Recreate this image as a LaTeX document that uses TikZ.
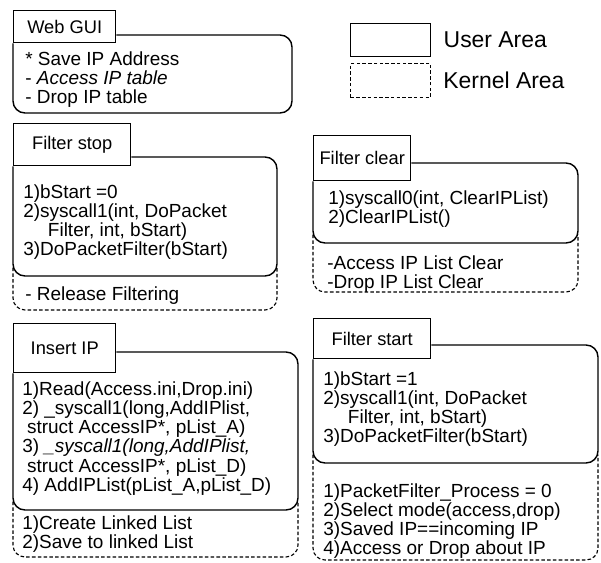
\documentclass[tikz,border=0pt]{standalone}
\usepackage{fontspec}
\setmainfont{Liberation Sans}
\usetikzlibrary{positioning}

\begin{document}
\begin{tikzpicture}[x=0.025cm,y=-0.025cm]
\tikzstyle{user} = [line width=1pt,rounded corners=8.5pt]
\tikzstyle{kernel} = [line width=0.8pt,dash pattern=on 2.5pt off 1.6pt,rounded corners=8.5pt]
\tikzstyle{tab} = [draw,line width=1pt,anchor=north west,inner sep=0pt,font=\fontsize{13}{15}\selectfont]
\tikzstyle{block} = [anchor=north west,inner sep=0pt,align=left,font=\fontsize{13.5}{13.7}\selectfont]
\tikzstyle{legend} = [anchor=west,inner sep=0pt,font=\fontsize{16.3}{18}\selectfont]
    \useasboundingbox (0,0) rectangle (601,563);
    \node[draw,line width=1pt,anchor=north west,minimum width=2cm,minimum height=0.825cm] (UserBox) at (350,23) {};
    \node[draw,line width=0.8pt,dash pattern=on 2.5pt off 1.6pt,anchor=north west,minimum width=2cm,minimum height=0.85cm] (KernelBox) at (350,63) {};
    \node[legend,right=0.3cm of UserBox] (UserLabel) {User Area};
    \node[legend,right=0.3cm of KernelBox] (KernelLabel) {Kernel Area};

    \node[tab,minimum width=2.55cm,minimum height=0.8cm] (WebTab) at (13,10) {Web GUI};
    \coordinate (WebTop) at (0,35);
    \coordinate (WebBR) at (292,113);
    \node[block] (WebText) at (25,51) {* Save IP Address\\- \textit{Access IP table}\\- Drop IP table};

    \node[tab,minimum width=2.925cm,minimum height=1.05cm] (StopTab) at (13,123) {Filter stop};
    \coordinate (StopTop) at (0,157);
    \coordinate (StopBR) at (277,276);
    \coordinate (StopKB) at (277,310);
    \node[block] (StopText) at (23,184) {1)bStart =0\\2)syscall1(int, DoPacket\\\hspace*{1.3em}Filter, int, bStart)\\3)DoPacketFilter(bStart)};
    \node[block] (StopKernel) at (25,286) {- Release Filtering};

    \node[tab,minimum width=2.425cm,minimum height=1.125cm] (ClearTab) at (313,135) {Filter clear};
    \coordinate (ClearTop) at (0,163);
    \coordinate (ClearBR) at (578,243);
    \coordinate (ClearKB) at (578,292);
    \node[block] (ClearText) at (328,190) {1)syscall0(int, ClearIPList)\\2)ClearIPList()};
    \node[block] (ClearKernel) at (327,255) {-Access IP List Clear\\-Drop IP List Clear};

    \node[tab,minimum width=2.55cm,minimum height=1.225cm] (InsertTab) at (13,323) {Insert IP};
    \coordinate (InsertTop) at (0,352);
    \coordinate (InsertBR) at (298,510);
    \coordinate (InsertKB) at (298,557);
    \node[block] (InsertText) at (22,381) {1)Read(Access.ini,Drop.ini)\\2) \_syscall1(long,AddIPlist,\\\hspace*{0.25em}struct AccessIP*, pList\_A)\\3) \textit{\_syscall1(long,AddIPlist,}\\\hspace*{0.25em}struct AccessIP*, pList\_D)\\4) AddIPList(pList\_A,pList\_D)};
    \node[block] (InsertKernel) at (22,515) {1)Create Linked List\\2)Save to linked List};

    \node[tab,minimum width=2.925cm,minimum height=1cm] (StartTab) at (313,318) {Filter start};
    \coordinate (StartTop) at (0,345);
    \coordinate (StartBR) at (598,463);
    \coordinate (StartKB) at (598,560);
    \node[block] (StartText) at (323,371) {1)bStart =1\\2)syscall1(int, DoPacket\\\hspace*{1.3em}Filter, int, bStart)\\3)DoPacketFilter(bStart)};
    \node[block] (StartKernel) at (323,483) {1)PacketFilter\_Process = 0\\2)Select mode(access,drop)\\3)Saved IP==incoming IP\\4)Access or Drop about IP};

    \draw[user] (WebTab.north east |- WebTop) -- (WebBR |- WebTop) -- (WebBR) -- (WebTab.west |- WebBR) -- (WebTab.south west);
    \draw[user] (StopTab.north east |- StopTop) -- (StopBR |- StopTop) -- (StopBR) -- (StopTab.west |- StopBR) -- (StopTab.south west);
    \draw[user] (ClearTab.north east |- ClearTop) -- (ClearBR |- ClearTop) -- (ClearBR) -- (ClearTab.west |- ClearBR) -- (ClearTab.south west);
    \draw[user] (InsertTab.north east |- InsertTop) -- (InsertBR |- InsertTop) -- (InsertBR) -- (InsertTab.west |- InsertBR) -- (InsertTab.south west);
    \draw[user] (StartTab.north east |- StartTop) -- (StartBR |- StartTop) -- (StartBR) -- (StartTab.west |- StartBR) -- (StartTab.south west);
    \draw[kernel] ([yshift=6pt]StopTab.west |- StopBR) -- (StopTab.west |- StopKB) -- (StopKB) -- ([yshift=6pt]StopBR);
    \draw[kernel] ([yshift=6pt]ClearTab.west |- ClearBR) -- (ClearTab.west |- ClearKB) -- (ClearKB) -- ([yshift=6pt]ClearBR);
    \draw[kernel] ([yshift=6pt]InsertTab.west |- InsertBR) -- (InsertTab.west |- InsertKB) -- (InsertKB) -- ([yshift=6pt]InsertBR);
    \draw[kernel] ([yshift=6pt]StartTab.west |- StartBR) -- (StartTab.west |- StartKB) -- (StartKB) -- ([yshift=6pt]StartBR);
\end{tikzpicture}
\end{document}
